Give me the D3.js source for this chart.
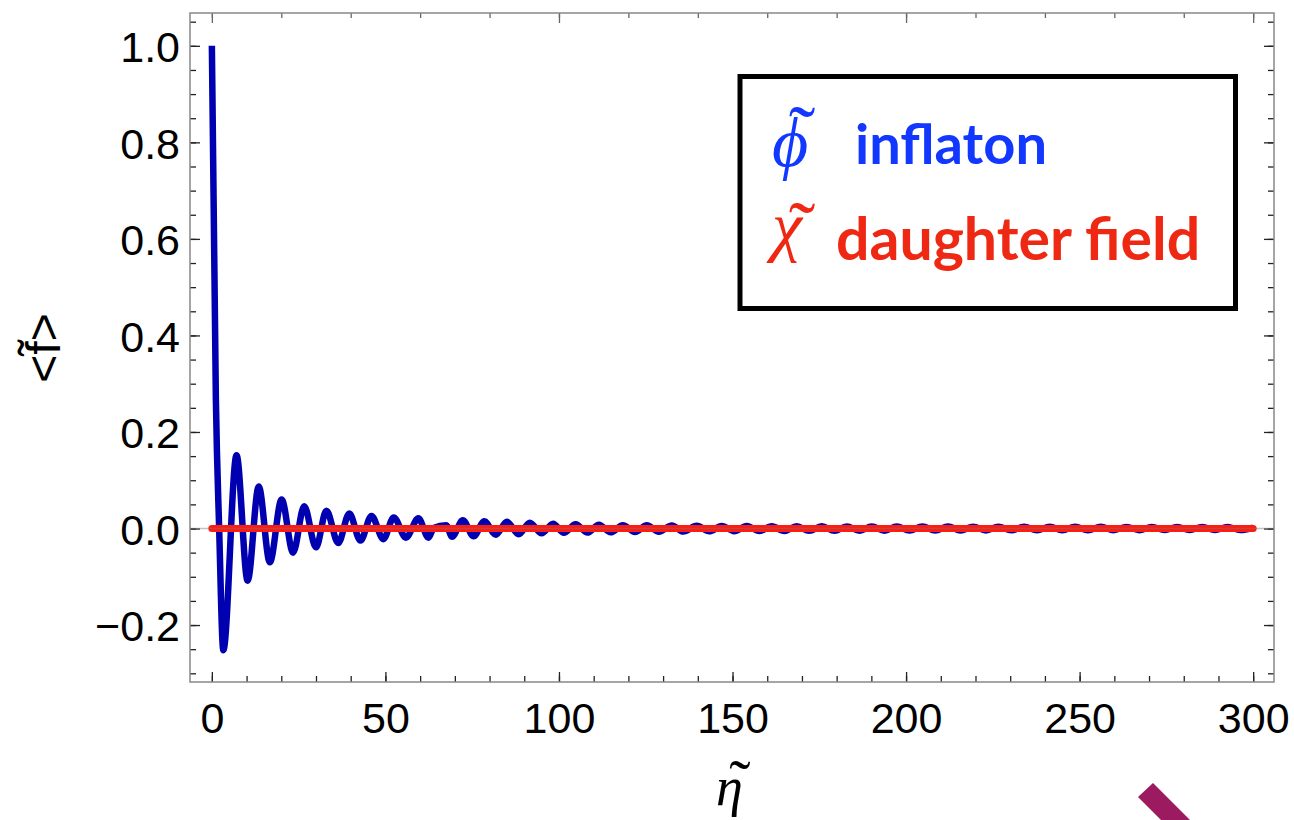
<!DOCTYPE html>
<html>
<head>
<meta charset="utf-8">
<script src="https://cdn.jsdelivr.net/npm/d3@7"></script>
<style>
  html, body { margin: 0; padding: 0; background: #fff; }
  svg { display: block; }
</style>
</head>
<body>
<div id="chart"></div>
<script>
// inflaton mean value: turning points
const etaInflaton = [0, 1.15, 2.1, 3.3, 7.1, 10.3, 13.5, 16.7, 20.1, 23.4, 26.6, 30.0, 33.0, 36.4, 39.6,
    42.8, 46.0, 49.4, 52.4, 55.9, 59.5, 62.4, 63.9, 67.5, 69.2, 72.3, 75.4, 78.5, 81.8, 85.0,
    88.4, 91.6, 95.0, 98.3, 101.4, 104.8, 108.2, 111.5, 114.9, 118.4, 121.9, 125.3, 128.8, 132.5, 135.8,
    139.7, 143.3, 146.9, 150.5, 154.1, 157.7, 161.3, 164.9, 168.5, 172.1, 175.7, 179.4, 182.9, 186.6, 190.1,
    193.8, 197.3, 201.0, 204.7, 208.4, 212.1, 215.7, 219.3, 223.0, 226.6, 230.3, 234.0, 237.7, 241.4, 245.0,
    248.7, 252.4, 256.1, 259.8, 263.5, 267.2, 270.8, 274.5, 278.1, 281.7, 285.3, 289.0, 292.6, 296.3, 300.0];
const valInflaton = [1.0, 0.27, 0.0, -0.252, 0.152, -0.108, 0.087, -0.070, 0.060, -0.050, 0.046, -0.039, 0.037, -0.030, 0.031,
    -0.025, 0.026, -0.022, 0.023, -0.019, 0.021, -0.019, 0.001, 0.007, -0.017, 0.017, -0.016, 0.015, -0.013, 0.014,
    -0.012, 0.012, -0.010, 0.010, -0.009, 0.009, -0.0085, 0.008, -0.008, 0.007, -0.0072, 0.0066, -0.0068, 0.006, -0.0062,
    0.0055, -0.0058, 0.0052, -0.0055, 0.005, -0.0052, 0.0048, -0.005, 0.0046, -0.0048, 0.0045, -0.0046, 0.0044, -0.0045, 0.0042,
    -0.0044, 0.0041, -0.0042, 0.004, -0.0041, 0.0039, -0.004, 0.0038, -0.0039, 0.0037, -0.0038, 0.0036, -0.0037, 0.0035, -0.0036,
    0.0035, -0.0035, 0.0034, -0.0034, 0.0033, -0.0034, 0.0033, -0.0033, 0.0032, -0.0032, 0.0032, -0.0031, 0.0031, -0.0031, 0.002];

// daughter field stays at zero
const etaDaughter = [0, 300];
const valDaughter = [0, 0];

const xMajorTicks = [0, 50, 100, 150, 200, 250, 300];
const xTickLabels = ['0', '50', '100', '150', '200', '250', '300'];
const yMajorTicks = [-0.2, 0, 0.2, 0.4, 0.6, 0.8, 1.0];
const yTickLabels = ['\u22120.2', '0.0', '0.2', '0.4', '0.6', '0.8', '1.0'];

const legendSymbols = ['\u03D5', '\u03C7'];
const legendLabels = ['inflaton', 'daughter field'];
const legendColors = ['#1238ff', '#ee2812'];

const W = 1294, H = 820;
const frame = { left: 190, top: 13, right: 1274, bottom: 682 };
const tickFont = '"Liberation Sans", Arial, Helvetica, sans-serif';
const mathFont = '"Liberation Serif", "Times New Roman", serif';

const svg = d3.select('#chart').append('svg')
    .attr('width', W)
    .attr('height', H);

const x = d3.scaleLinear().domain([-6.3, 306]).range([frame.left, frame.right]);
const y = d3.scaleLinear().domain([-0.318, 1.068]).range([frame.bottom, frame.top]);

// ticks (inward, Mathematica frame style)
function styleAxis(g, color) {
    g.select('.domain').remove();
    g.selectAll('line').attr('stroke', color).attr('stroke-width', 1.3);
    g.attr('font-family', tickFont).attr('font-size', 43);
    g.selectAll('text').attr('fill', '#000');
}

svg.append('g').attr('transform', `translate(0,${frame.bottom})`)
    .call(d3.axisBottom(x).tickValues(d3.range(0, 301, 10)).tickSize(-6).tickFormat(''))
    .call(g => styleAxis(g, '#222'));
svg.append('g').attr('transform', `translate(0,${frame.bottom})`)
    .call(d3.axisBottom(x).tickValues(xMajorTicks).tickSize(-10).tickPadding(20)
        .tickFormat((d, i) => xTickLabels[i]))
    .call(g => styleAxis(g, '#222'));

svg.append('g').attr('transform', `translate(${frame.left},0)`)
    .call(d3.axisLeft(y).tickValues(d3.range(-0.3, 1.06, 0.05)).tickSize(-6).tickFormat(''))
    .call(g => styleAxis(g, '#222'));
svg.append('g').attr('transform', `translate(${frame.left},0)`)
    .call(d3.axisLeft(y).tickValues(yMajorTicks).tickSize(-10).tickPadding(10)
        .tickFormat((d, i) => yTickLabels[i]))
    .call(g => styleAxis(g, '#222'))
    .call(g => g.selectAll('text').attr('dy', '0.37em'));

// top and right: no labels
svg.append('g').attr('transform', `translate(0,${frame.top})`)
    .call(d3.axisTop(x).tickValues(d3.range(0, 301, 20)).tickSize(-5).tickFormat(''))
    .call(g => styleAxis(g, '#666'));
svg.append('g').attr('transform', `translate(0,${frame.top})`)
    .call(d3.axisTop(x).tickValues([0, 100, 200, 300]).tickSize(-10).tickFormat(''))
    .call(g => styleAxis(g, '#666'));
svg.append('g').attr('transform', `translate(${frame.right},0)`)
    .call(d3.axisRight(y).tickValues(d3.range(-0.3, 1.06, 0.05)).tickSize(-6).tickFormat(''))
    .call(g => styleAxis(g, '#222'));
svg.append('g').attr('transform', `translate(${frame.right},0)`)
    .call(d3.axisRight(y).tickValues(yMajorTicks).tickSize(-10).tickFormat(''))
    .call(g => styleAxis(g, '#222'));

svg.append('rect')
    .attr('x', frame.left).attr('y', frame.top)
    .attr('width', frame.right - frame.left).attr('height', frame.bottom - frame.top)
    .attr('fill', 'none').attr('stroke', '#888').attr('stroke-width', 1.5);

const line = d3.line()
    .x(d => x(d[0]))
    .y(d => y(d[1]))
    .curve(d3.curveMonotoneX);

svg.append('path')
    .datum(etaInflaton.map((e, i) => [e, valInflaton[i]]))
    .attr('fill', 'none').attr('stroke', '#0000b0').attr('stroke-width', 6.5)
    .attr('stroke-linejoin', 'round')
    .attr('d', line);

svg.append('path')
    .datum(etaDaughter.map((e, i) => [e, valDaughter[i]]))
    .attr('fill', 'none').attr('stroke', '#ff1a12').attr('stroke-width', 7)
    .attr('stroke-linecap', 'round')
    .attr('d', line);

// zero axis shows through
svg.append('line')
    .attr('x1', frame.left).attr('x2', frame.right)
    .attr('y1', y(0)).attr('y2', y(0))
    .attr('stroke', '#777').attr('stroke-width', 1.5).attr('stroke-opacity', 0.45);

// greek italic letter with a tilde set above it, kept in one text element
function accented(o) {
    const t = svg.append('text')
        .attr('font-family', mathFont)
        .attr('fill', o.color);
    t.append('tspan')
        .attr('x', o.x).attr('y', o.base)
        .attr('font-style', 'italic').attr('font-size', o.size)
        .text(o.letter);
    t.append('tspan')
        .attr('x', o.tx).attr('y', o.ty + 0.61 * o.tsize)
        .attr('text-anchor', 'middle')
        .attr('font-size', o.tsize)
        .text('\u02DC');
}

// axis titles
svg.append('text')
    .attr('transform', `translate(60,348) rotate(-90)`)
    .attr('text-anchor', 'middle')
    .attr('font-family', tickFont).attr('font-size', 48)
    .text('<f\u0303>');

accented({ letter: '\u03B7', x: 716, base: 805, size: 54, tx: 740, ty: 765, tsize: 64, color: '#000' });

// legend
svg.append('rect')
    .attr('x', 740).attr('y', 76.5).attr('width', 495.5).attr('height', 232)
    .attr('fill', '#fff').attr('stroke', '#000').attr('stroke-width', 5);

const legendRows = [
    { base: 164, labelX: 855, size: 56, sym: { x: 772, base: 166, size: 70, ty: 112 } },
    { base: 260, labelX: 836, size: 59, sym: { x: 772, base: 249, size: 68, ty: 208 } }
];
legendRows.forEach((r, i) => {
    accented({ letter: legendSymbols[i], x: r.sym.x, base: r.sym.base, size: r.sym.size,
        tx: 802, ty: r.sym.ty, tsize: 80, color: legendColors[i] });
    svg.append('text')
        .attr('x', r.labelX).attr('y', r.base)
        .attr('font-family', 'Lato, "Open Sans", sans-serif')
        .attr('font-weight', 700).attr('font-size', r.size)
        .attr('fill', legendColors[i])
        .text(legendLabels[i]);
});

// stray mark bottom right of the screenshot
svg.append('path')
    .attr('d', 'M1138,797 L1153,783 L1196,826 L1181,840 Z')
    .attr('fill', '#9c1a5f');
</script>
</body>
</html>
